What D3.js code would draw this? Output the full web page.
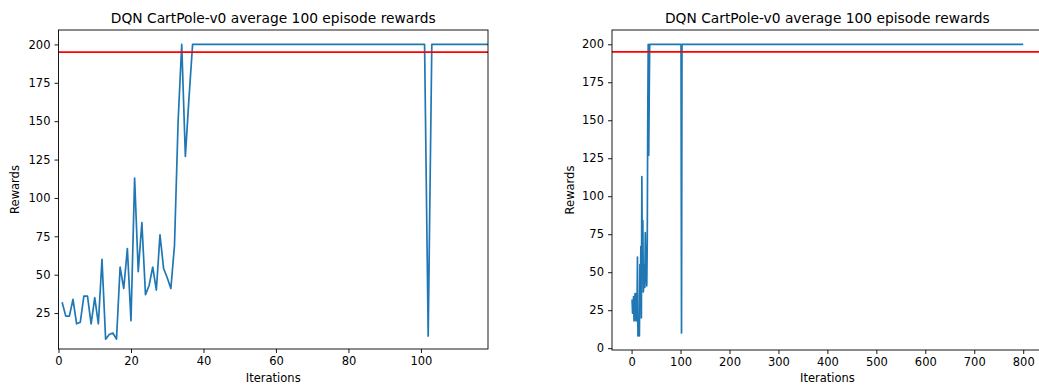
<!DOCTYPE html>
<html>
<head>
<meta charset="utf-8">
<script src="https://cdn.jsdelivr.net/npm/d3@7"></script>
<style>
  body { margin: 0; background: #fff; }
  text { font-family: "DejaVu Sans", sans-serif; fill: #000; }
</style>
</head>
<body>
<div id="chart"></div>
<script>
// average reward per iteration (iterations 1..120)
const rewards = [
  32, 23, 23, 34, 18, 19, 36, 36, 18, 35, 18, 60, 8, 11, 12, 8, 55, 41, 67, 20,
  113, 52, 84, 37, 43, 55, 40, 76, 54, 48, 41, 69, 150, 200, 127, 165, 200, 200, 200, 200,
  200, 200, 200, 200, 200, 200, 200, 200, 200, 200, 200, 200, 200, 200, 200, 200, 200, 200, 200, 200,
  200, 200, 200, 200, 200, 200, 200, 200, 200, 200, 200, 200, 200, 200, 200, 200, 200, 200, 200, 200,
  200, 200, 200, 200, 200, 200, 200, 200, 200, 200, 200, 200, 200, 200, 200, 200, 200, 200, 200, 200,
  200, 10, 200, 200, 200, 200, 200, 200, 200, 200, 200, 200, 200, 200, 200, 200, 200, 200, 200, 200
];
const iterations = rewards.map((d, i) => i + 1);
// the long run keeps 200 up to the last iteration
const longRunEnd = 800;
const longRunEndReward = 200;
const solvedThreshold = 195;

const title = "DQN CartPole-v0 average 100 episode rewards";
const leftXTicks = [0, 20, 40, 60, 80, 100];
const leftYTicks = [25, 50, 75, 100, 125, 150, 175, 200];
const rightXTicks = [0, 100, 200, 300, 400, 500, 600, 700, 800];
const rightYTicks = [0, 25, 50, 75, 100, 125, 150, 175, 200];

const W = 1039, H = 385;
const svg = d3.select("#chart").append("svg")
    .attr("width", W)
    .attr("height", H)
    .style("display", "block");
svg.append("rect").attr("width", W).attr("height", H).attr("fill", "#fff");

const shortRun = iterations.map((x, i) => ({x: x, y: rewards[i]}));
const longRun = shortRun.concat([{x: longRunEnd, y: longRunEndReward}]);

function panel(id, data, box, xDomain, yDomain, xTicks, yTicks) {
  const x = d3.scaleLinear().domain(xDomain).range([box.left, box.right]);
  const y = d3.scaleLinear().domain(yDomain).range([box.bottom, box.top]);
  const g = svg.append("g");

  g.append("clipPath").attr("id", id)
    .append("rect")
    .attr("x", box.left).attr("y", box.top)
    .attr("width", box.right - box.left).attr("height", box.bottom - box.top);

  const plot = g.append("g").attr("clip-path", "url(#" + id + ")");
  plot.append("path")
    .datum(data)
    .attr("fill", "none")
    .attr("stroke", "#1f77b4")
    .attr("stroke-width", 1.7)
    .attr("stroke-linejoin", "round")
    .attr("d", d3.line().x(d => x(d.x)).y(d => y(d.y)));

  plot.append("line")
    .attr("x1", box.left).attr("x2", box.right)
    .attr("y1", y(solvedThreshold)).attr("y2", y(solvedThreshold))
    .attr("stroke", "#ff0000")
    .attr("stroke-width", 1.7);

  const xAxis = g.append("g")
    .attr("transform", "translate(0," + box.bottom + ")")
    .call(d3.axisBottom(x).tickValues(xTicks).tickSize(4).tickPadding(4).tickFormat(d3.format("d")));
  const yAxis = g.append("g")
    .attr("transform", "translate(" + box.left + ",0)")
    .call(d3.axisLeft(y).tickValues(yTicks).tickSize(4).tickPadding(4).tickFormat(d3.format("d")));
  [xAxis, yAxis].forEach(a => {
    a.select(".domain").remove();
    a.selectAll("line").attr("stroke", "#000").attr("stroke-width", 0.9);
    a.selectAll("text").style("font-size", "11.5px").attr("fill", "#000");
  });

  // box around the axes
  g.append("rect")
    .attr("x", box.left).attr("y", box.top)
    .attr("width", box.right - box.left).attr("height", box.bottom - box.top)
    .attr("fill", "none")
    .attr("stroke", "#000")
    .attr("stroke-width", 0.9);

  const cx = (box.left + box.right) / 2;
  g.append("text")
    .attr("x", cx).attr("y", box.top - 7)
    .attr("text-anchor", "middle")
    .style("font-size", "13.8px")
    .text(title);

  g.append("text")
    .attr("x", cx).attr("y", 382)
    .attr("text-anchor", "middle")
    .style("font-size", "11.5px")
    .text("Iterations");

  g.append("text")
    .attr("transform", "translate(" + box.ylab + "," + ((box.top + box.bottom) / 2) + ") rotate(-90)")
    .attr("text-anchor", "middle")
    .style("font-size", "11.5px")
    .text("Rewards");
}

panel("clipL", shortRun,
  {left: 58.5, right: 488, top: 30, bottom: 349, ylab: 19},
  [0, 118.5], [1.6, 209.4], leftXTicks, leftYTicks);

panel("clipR", longRun,
  {left: 612, right: 1042.8, top: 30, bottom: 350, ylab: 574},
  [-40, 840], [-1.2, 209.4], rightXTicks, rightYTicks);
</script>
</body>
</html>
